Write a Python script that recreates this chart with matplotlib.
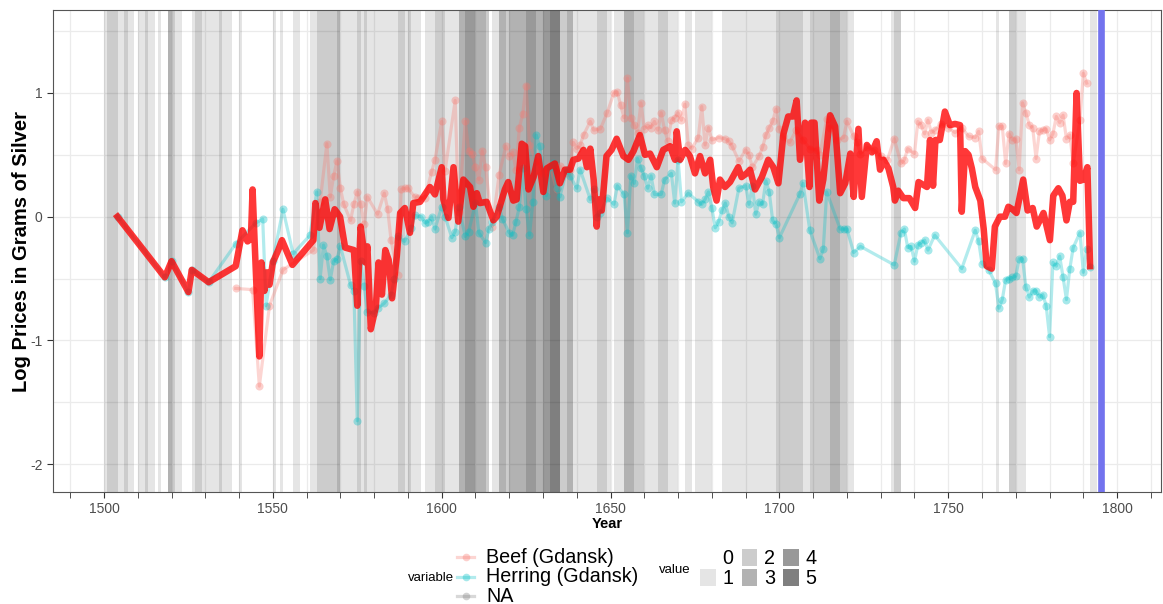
import matplotlib
matplotlib.use('Agg')
import matplotlib.pyplot as plt
from matplotlib.patches import Rectangle
from matplotlib.ticker import MultipleLocator

plt.rcParams['font.family'] = ['Liberation Sans', 'DejaVu Sans']
plt.rcParams['axes.unicode_minus'] = False

# war intensity per year (runs of years: first, last, level 1-5)
band_start = [1500, 1501, 1504, 1506, 1507, 1510, 1512, 1513, 1516, 1519,
              1520, 1521, 1526, 1527, 1529, 1534, 1535, 1540, 1550, 1552,
              1556, 1561, 1563, 1569, 1570, 1575, 1576, 1577, 1578, 1587,
              1589, 1590, 1591, 1595, 1598, 1601, 1605, 1607, 1610, 1613,
              1615, 1617, 1619, 1620, 1625, 1628, 1630, 1632, 1635, 1637,
              1639, 1646, 1649, 1651, 1654, 1657, 1660, 1664, 1667, 1672,
              1675, 1683, 1699, 1707, 1709, 1715, 1718, 1720, 1733, 1734,
              1764, 1768, 1770, 1792]
band_end = [1500, 1503, 1505, 1506, 1508, 1511, 1512, 1514, 1516, 1519,
            1520, 1522, 1526, 1528, 1533, 1534, 1537, 1540, 1550, 1552,
            1557, 1562, 1568, 1569, 1574, 1575, 1576, 1577, 1586, 1588,
            1589, 1590, 1593, 1597, 1600, 1604, 1606, 1609, 1612, 1613,
            1616, 1618, 1619, 1624, 1627, 1629, 1631, 1634, 1636, 1638,
            1645, 1648, 1649, 1653, 1656, 1659, 1663, 1666, 1669, 1673,
            1679, 1698, 1706, 1708, 1714, 1717, 1719, 1721, 1733, 1735,
            1764, 1769, 1772, 1793]
band_level = [1, 2, 1, 2, 1, 1, 2, 1, 1, 3,
              2, 1, 1, 2, 1, 2, 1, 1, 1, 1,
              1, 1, 2, 3, 1, 2, 1, 2, 1, 2,
              1, 2, 1, 1, 2, 1, 3, 4, 3, 2,
              1, 3, 2, 3, 4, 3, 4, 5, 2, 3,
              1, 2, 1, 1, 3, 2, 1, 2, 1, 1,
              1, 1, 2, 1, 2, 3, 2, 1, 1, 2,
              1, 2, 1, 1]

beef_year = [1539, 1544, 1546, 1549, 1553, 1562, 1564, 1566, 1567, 1568,
             1569, 1570, 1571, 1573, 1574, 1575, 1576, 1577, 1578, 1581,
             1583, 1584, 1585, 1587, 1588, 1589, 1590, 1592, 1593, 1595,
             1597, 1598, 1600, 1601, 1604, 1605, 1607, 1608, 1609, 1610,
             1611, 1612, 1613, 1615, 1617, 1619, 1620, 1621, 1622, 1623,
             1624, 1625, 1626, 1628, 1630, 1632, 1634, 1635, 1637, 1638,
             1639, 1640, 1641, 1642, 1644, 1645, 1647, 1649, 1651, 1652,
             1653, 1654, 1655, 1656, 1657, 1658, 1659, 1660, 1661, 1662,
             1663, 1664, 1665, 1666, 1667, 1668, 1669, 1670, 1671, 1672,
             1673, 1674, 1676, 1677, 1678, 1679, 1680, 1682, 1684, 1685,
             1686, 1688, 1690, 1691, 1692, 1694, 1695, 1696, 1697, 1698,
             1699, 1700, 1701, 1703, 1705, 1707, 1709, 1711, 1712, 1714,
             1715, 1717, 1719, 1720, 1722, 1723, 1724, 1726, 1728, 1730,
             1732, 1734, 1736, 1737, 1738, 1740, 1741, 1742, 1743, 1744,
             1745, 1746, 1748, 1750, 1752, 1754, 1756, 1758, 1759, 1760,
             1764, 1765, 1766, 1767, 1768, 1769, 1770, 1771, 1772, 1773,
             1774, 1775, 1776, 1777, 1778, 1779, 1780, 1781, 1782, 1783,
             1784, 1785, 1786, 1787, 1789, 1790, 1791]
beef_val = [-0.58, -0.59, -1.37, -0.72, -0.43, -0.27, 0.12, 0.59, 0.16, 0.33,
            0.45, 0.23, 0.10, -0.03, 0.10, 0.20, 0.10, -0.06, 0.16, 0.02,
            0.19, 0.06, -0.19, -0.47, 0.22, 0.23, 0.23, 0.16, 0.15, 0.15,
            0.36, 0.46, 0.77, 0.37, 0.94, 0.04, 0.77, 0.53, 0.51, 0.40,
            0.30, 0.53, 0.40, -0.08, 0.34, 0.57, 0.49, 0.52, 0.38, 0.72,
            0.83, 1.06, 0.58, 0.45, 0.35, 0.42, 0.22, 0.41, 0.35, 0.38,
            0.60, 0.55, 0.58, 0.66, 0.77, 0.70, 0.71, 0.84, 1.00, 1.01,
            0.90, 0.80, 1.12, 0.80, 0.74, 0.68, 0.92, 0.71, 0.74, 0.72,
            0.77, 0.70, 0.84, 0.70, 0.61, 0.78, 0.80, 0.84, 0.78, 0.91,
            0.58, 0.55, 0.64, 0.89, 0.58, 0.72, 0.62, 0.64, 0.63, 0.61,
            0.57, 0.45, 0.54, 0.50, 0.40, 0.49, 0.56, 0.66, 0.72, 0.77,
            0.87, 0.71, 0.65, 0.60, 0.70, 0.62, 0.55, 0.54, 0.50, 0.79,
            0.72, 0.62, 0.64, 0.77, 0.65, 0.60, 0.51, 0.56, 0.54, 0.49,
            0.46, 0.63, 0.43, 0.46, 0.55, 0.51, 0.77, 0.74, 0.67, 0.78,
            0.68, 0.70, 0.75, 0.72, 0.68, 0.72, 0.65, 0.64, 0.69, 0.47,
            0.38, 0.73, 0.73, 0.43, 0.67, 0.62, 0.63, 0.38, 0.92, 0.84,
            0.74, 0.72, 0.47, 0.69, 0.70, 0.71, 0.62, 0.67, 0.81, 0.76,
            0.82, 0.63, 0.66, 0.43, 0.78, 1.16, 1.08]

herring_year = [1504, 1518, 1520, 1525, 1526, 1531, 1539, 1545, 1547, 1548,
                1550, 1553, 1556, 1561,
                1563, 1564, 1565, 1566, 1567, 1568, 1569, 1570, 1573, 1574,
                1575, 1576, 1577, 1578, 1580, 1581, 1583, 1585, 1586, 1587,
                1589, 1591, 1592, 1594, 1595, 1596, 1597, 1598, 1600, 1601,
                1603, 1604, 1605, 1607, 1608, 1610, 1611, 1613, 1614, 1615,
                1617, 1618, 1620, 1621, 1622, 1623, 1624, 1625, 1626, 1627,
                1628, 1629, 1631, 1632, 1633, 1634, 1635, 1637, 1638, 1640,
                1641, 1644, 1645, 1646, 1647, 1649, 1651, 1652, 1654, 1655,
                1656, 1657, 1658, 1659, 1660, 1661, 1662, 1663, 1665, 1666,
                1668, 1669, 1670, 1671, 1673, 1676, 1677, 1678, 1679, 1680,
                1681, 1682, 1683, 1684, 1685, 1686, 1688, 1690, 1691, 1692,
                1693, 1694, 1695, 1696, 1697, 1698, 1699, 1700, 1706, 1707,
                1709, 1712, 1713, 1714, 1718, 1719, 1720, 1722, 1724, 1734,
                1736, 1737, 1738, 1739, 1740, 1741, 1742, 1743, 1744, 1746,
                1754, 1758, 1759, 1760, 1762, 1764, 1765, 1766, 1767, 1768,
                1769, 1770, 1771, 1772, 1773, 1774, 1775, 1776, 1777, 1778,
                1779, 1780, 1781, 1782, 1783, 1784, 1785, 1786, 1787, 1789,
                1790, 1791, 1792]
herring_val = [0.00, -0.49, -0.36, -0.61, -0.43, -0.53, -0.22, -0.05, -0.02, -0.72,
               -0.36, 0.06, -0.30, -0.15,
               0.20, -0.50, -0.23, -0.32, -0.51, -0.36, -0.34, -0.24, -0.55, -0.60,
               -1.65, -0.36, -0.56, -0.77, -0.78, -0.74, -0.70, -0.63, -0.50, -0.16,
               -0.20, -0.09, 0.01, 0.00, -0.05, -0.04, 0.00, -0.10, 0.08, 0.00,
               -0.17, -0.12, 0.08, -0.16, -0.12, 0.11, -0.13, -0.21, -0.10, -0.04,
               0.08, -0.02, -0.13, -0.15, -0.04, 0.08, 0.39, 0.06, -0.15, 0.12,
               0.66, 0.57, 0.17, 0.40, 0.43, 0.23, 0.16, 0.38, 0.33, 0.23,
               0.38, 0.14, 0.22, 0.00, 0.03, 0.15, 0.10, 0.25, 0.18, -0.13,
               0.33, 0.27, 0.47, 0.39, 0.33, 0.23, 0.33, 0.18, 0.18, 0.30,
               0.35, 0.11, 0.46, 0.12, 0.19, 0.12, 0.10, 0.14, 0.20, 0.07,
               -0.09, -0.04, 0.05, 0.11, 0.00, -0.05, 0.23, 0.25, 0.10, 0.25,
               0.02, 0.12, 0.10, 0.29, 0.20, -0.03, -0.06, -0.17, 0.18, 0.27,
               -0.11, -0.34, -0.26, 0.20, -0.10, -0.10, -0.10, -0.29, -0.24, -0.39,
               -0.13, -0.10, -0.25, -0.24, -0.36, -0.23, -0.21, -0.19, -0.27, -0.15,
               -0.42, -0.11, -0.20, -0.38, -0.43, -0.54, -0.74, -0.67, -0.51, -0.50,
               -0.49, -0.48, -0.34, -0.34, -0.57, -0.65, -0.60, -0.60, -0.65, -0.63,
               -0.72, -0.97, -0.37, -0.40, -0.32, -0.49, -0.67, -0.42, -0.25, -0.13,
               -0.45, -0.26, -0.41]

# composite price index (thick red line)
index_year = [1504.0, 1518.0, 1520.0, 1525.0, 1526.0, 1531.0, 1539.0, 1541.0, 1542.5, 1543.5,
              1544.0, 1544.6, 1546.0, 1546.6, 1547.5, 1548.3, 1549.0, 1550.0, 1551.6, 1552.7,
              1555.8, 1562.0, 1562.6, 1563.8, 1565.5, 1566.8, 1568.3, 1569.9, 1571.4, 1574.0,
              1575.0, 1576.0, 1577.4, 1578.0, 1579.0, 1580.5, 1581.3, 1582.3, 1583.3, 1584.3,
              1585.3, 1586.7, 1587.7, 1589.1, 1590.6, 1591.6, 1593.6, 1596.5, 1598.0, 1600.0,
              1600.5, 1602.0, 1603.5, 1604.9, 1606.4, 1608.4, 1609.4, 1610.4, 1611.3, 1613.3,
              1615.3, 1616.3, 1618.7, 1619.7, 1621.2, 1622.2, 1623.7, 1624.7, 1625.7, 1627.2,
              1628.6, 1630.1, 1631.1, 1633.5, 1635.0, 1636.5, 1638.0, 1639.0, 1640.5, 1642.0,
              1643.0, 1644.0, 1645.0, 1645.9, 1646.4, 1647.4, 1648.8, 1650.3, 1651.8, 1653.8,
              1655.3, 1656.8, 1658.7, 1660.2, 1661.7, 1663.7, 1665.6, 1667.6, 1669.1, 1669.6,
              1670.6, 1672.1, 1673.5, 1675.0, 1676.5, 1678.0, 1679.5, 1680.4, 1681.4, 1682.4,
              1683.9, 1685.4, 1686.8, 1687.8, 1688.8, 1690.3, 1691.3, 1692.8, 1694.8, 1696.7,
              1698.2, 1699.7, 1701.2, 1702.6, 1704.0, 1705.1, 1706.1, 1707.6, 1708.9, 1709.4,
              1710.4, 1711.8, 1713.0, 1715.0, 1716.5, 1718.0, 1719.5, 1721.0, 1722.0, 1723.4,
              1724.4, 1725.9, 1727.4, 1728.8, 1729.8, 1730.8, 1732.3, 1733.7, 1734.2, 1735.2,
              1736.7, 1738.5, 1740.2, 1741.2, 1743.7, 1744.6, 1745.5, 1746.2, 1747.5, 1749.0,
              1750.5, 1752.0, 1753.5, 1754.0, 1755.0, 1756.0, 1757.0, 1758.0, 1759.5, 1760.5,
              1761.4, 1762.9, 1763.8, 1765.3, 1766.8, 1767.8, 1769.0, 1770.2, 1772.2, 1773.5,
              1775.0, 1776.2, 1778.2, 1780.1, 1781.1, 1782.6, 1783.8, 1785.0, 1786.0, 1787.0,
              1788.0, 1789.0, 1790.0, 1791.2, 1792.0]
index_val = [0.00, -0.49, -0.36, -0.61, -0.43, -0.53, -0.40, -0.11, -0.20, -0.18,
             0.22, -0.20, -1.13, -0.37, -0.60, -0.45, -0.55, -0.37, -0.27, -0.19,
             -0.39, -0.19, 0.11, -0.09, 0.14, -0.10, 0.06, 0.00, -0.25, -0.27,
             -0.72, -0.08, -0.37, -0.24, -0.91, -0.73, -0.37, -0.63, -0.27, -0.35,
             -0.66, -0.32, 0.03, 0.07, -0.13, 0.11, 0.12, 0.24, 0.18, 0.40,
             0.14, -0.01, 0.40, -0.04, 0.30, 0.24, 0.08, 0.19, 0.11, 0.12,
             -0.03, 0.00, 0.22, 0.28, 0.13, 0.14, 0.59, 0.57, 0.22, 0.32,
             0.49, 0.20, 0.39, 0.43, 0.27, 0.38, 0.38, 0.46, 0.47, 0.54,
             0.40, 0.55, 0.30, -0.08, 0.14, 0.05, 0.49, 0.54, 0.63, 0.49,
             0.46, 0.53, 0.66, 0.50, 0.51, 0.40, 0.54, 0.57, 0.46, 0.69,
             0.46, 0.54, 0.49, 0.35, 0.49, 0.35, 0.46, 0.24, 0.13, 0.30,
             0.24, 0.28, 0.35, 0.40, 0.32, 0.35, 0.38, 0.22, 0.32, 0.46,
             0.40, 0.27, 0.67, 0.81, 0.81, 0.94, 0.46, 0.76, 0.24, 0.76,
             0.76, 0.13, 0.30, 0.82, 0.73, 0.19, 0.27, 0.51, 0.16, 0.71,
             0.16, 0.58, 0.52, 0.61, 0.38, 0.46, 0.39, 0.24, 0.13, 0.21,
             0.15, 0.15, 0.07, 0.28, 0.24, 0.62, 0.25, 0.62, 0.62, 0.85,
             0.74, 0.75, 0.74, 0.04, 0.53, 0.50, 0.39, 0.24, 0.13, -0.10,
             -0.40, -0.42, -0.08, 0.00, 0.00, 0.08, 0.06, 0.03, 0.30, 0.05,
             0.07, -0.08, 0.03, -0.19, 0.17, 0.23, 0.17, -0.03, 0.12, 0.12,
             1.00, 0.29, 0.30, 0.40, -0.40]

marker_year = 1795.2
variable_names = ['Beef (Gdansk)', 'Herring (Gdansk)', 'NA']
variable_colors = ['#F8766D', '#00BFC4', '#7F7F7F']
value_levels = [0, 1, 2, 3, 4, 5]

W, H = 1163, 604
fig = plt.figure(figsize=(W / 100, H / 100), dpi=100)
ax = fig.add_axes([53 / W, 1 - 492 / H, (1161 - 53) / W, (492 - 10) / H])

for s, e, lv in zip(band_start, band_end, band_level):
    ax.axvspan(s, e + 1, color='black', alpha=0.1 * lv, lw=0, zorder=1)

ax.plot(beef_year, beef_val, color=variable_colors[0], alpha=0.3, lw=2.3, zorder=2)
ax.plot(beef_year, beef_val, 'o', color=variable_colors[0], alpha=0.35, ms=5.8, mew=0, zorder=2)
ax.plot(herring_year, herring_val, color=variable_colors[1], alpha=0.3, lw=2.3, zorder=2)
ax.plot(herring_year, herring_val, 'o', color=variable_colors[1], alpha=0.35, ms=5.8, mew=0, zorder=2)
ax.plot(index_year, index_val, color='#ff0000', alpha=0.78, lw=4.7, zorder=3)
ax.axvline(marker_year, color='#7373ee', lw=4.8, zorder=4)

ax.set_xlim(1484.9, 1813.0)
ax.set_ylim(-2.226, 1.671)
ax.xaxis.set_major_locator(MultipleLocator(50))
ax.xaxis.set_minor_locator(MultipleLocator(10))
ax.yaxis.set_major_locator(MultipleLocator(1))
ax.yaxis.set_minor_locator(MultipleLocator(0.5))
ax.set_axisbelow(True)
ax.grid(which='both', color='#ebebeb', lw=0.9)
ax.tick_params(which='both', direction='out', length=4, color='#333333',
               labelcolor='#4d4d4d', labelsize=10)
ax.tick_params(axis='y', which='minor', length=0)
for sp in ax.spines.values():
    sp.set_color('#555555')
    sp.set_linewidth(0.8)

fig.text(607 / W, 1 - 524 / H, 'Year', ha='center', va='center',
         fontsize=10.5, fontweight='bold')
fig.text(22 / W, 1 - 252 / H, 'Log Prices in Grams of Silver', ha='center',
         va='center', rotation=90, fontsize=14.5, fontweight='bold')

# legends (drawn in pixel coordinates)
lax = fig.add_axes([0, 0, 1, 1])
lax.set_xlim(0, W)
lax.set_ylim(H, 0)
lax.axis('off')
lax.text(431, 578, 'variable', ha='center', va='center', fontsize=9.5)
for i, (name, col) in enumerate(zip(variable_names, variable_colors)):
    y = 557 + i * 19.5
    lax.plot([457, 474], [y, y], color=col, alpha=0.3, lw=2.3)
    lax.plot([465.5], [y], 'o', color=col, alpha=0.35, ms=5.5, mew=0)
    lax.text(486, y + 0.5, name, va='center', fontsize=14.2)

lax.text(675, 570, 'value', ha='center', va='center', fontsize=9.5)
for lv in value_levels:
    x0 = 700 + (lv // 2) * 41.5
    y0 = 549 + (lv % 2) * 19.5
    if lv > 0:
        lax.add_patch(Rectangle((x0, y0), 15.5, 17, facecolor='black',
                                alpha=0.1 * lv, lw=0))
    lax.text(x0 + 22.5, y0 + 9.5, str(lv), va='center', fontsize=14.2)

fig.savefig('out.png', dpi=100)
